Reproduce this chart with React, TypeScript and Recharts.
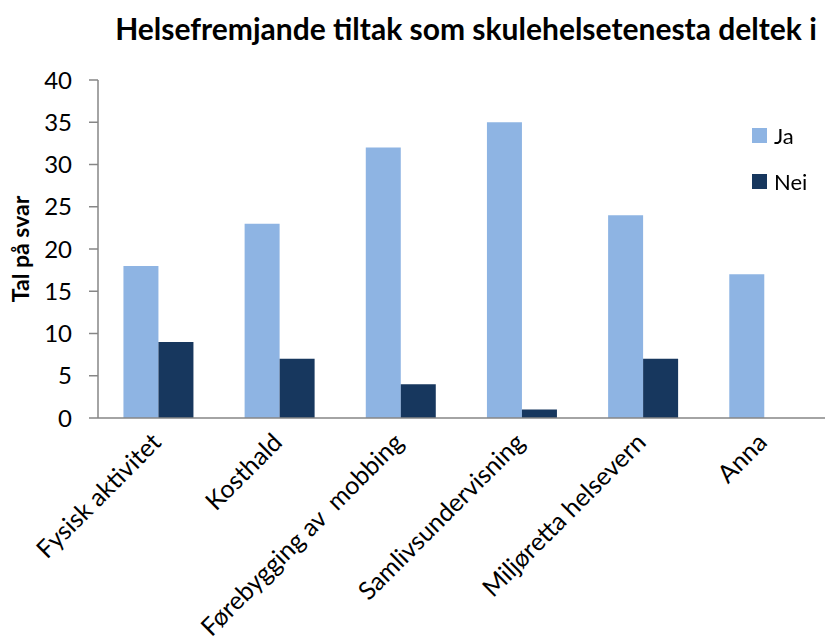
import { BarChart, Bar, XAxis, YAxis, Legend } from "recharts";

const categories = [
  "Fysisk aktivitet",
  "Kosthald",
  "Førebygging av  mobbing",
  "Samlivsundervisning",
  "Miljøretta helsevern",
  "Anna",
];
const jaValues = [18, 23, 32, 35, 24, 17];
const neiValues = [9, 7, 4, 1, 7, 0];
const majorTicks = [0, 5, 10, 15, 20, 25, 30, 35, 40];
const minorTicks = Array.from({ length: 41 }, (_, i) => i);

const FONT = "Lato, 'Open Sans', sans-serif";
const AXIS = "#868686";
const JA = "#8EB4E3";
const NEI = "#17375E";

const data = categories.map((name, i) => ({ name, ja: jaValues[i], nei: neiValues[i] }));

// skrå kategorietikettar, slutt ved midten av kategorien
const CategoryTick = ({ x, y, payload }: any) => (
  <g transform={`translate(${x},${y})`}>
    <text
      x={4}
      y={26}
      transform="rotate(-45 4 26)"
      textAnchor="end"
      fontSize={25}
      fontFamily={FONT}
      fill="#000"
      style={{ whiteSpace: "pre" }}
    >
      {payload.value}
    </text>
  </g>
);

const LegendBox = ({ payload }: any) => (
  <div style={{ fontFamily: FONT, fontSize: 22, color: "#000" }}>
    {(payload || []).map((p: any) => (
      <div key={p.value} style={{ display: "flex", alignItems: "center", height: 46 }}>
        <div style={{ width: 15, height: 15, background: p.color, marginRight: 7 }} />
        <span>{p.value}</span>
      </div>
    ))}
  </div>
);

export default function App() {
  return (
    <div style={{ position: "fixed", left: 0, top: 0, width: 825, height: 643, background: "#fff" }}>
      <div
        style={{
          position: "absolute",
          left: 107,
          width: 718,
          top: 10,
          textAlign: "center",
          fontFamily: FONT,
          fontWeight: 700,
          fontSize: 30,
          lineHeight: "36px",
          color: "#000",
          whiteSpace: "nowrap",
        }}
      >
        Helsefremjande tiltak som skulehelsetenesta deltek i
      </div>
      <BarChart
        width={825}
        height={643}
        data={data}
        margin={{ top: 80, right: 0, bottom: 25, left: 0 }}
        barCategoryGap="21%"
        barGap={0}
      >
        <XAxis
          dataKey="name"
          height={200}
          tickLine={false}
          tickSize={0}
          tickMargin={0}
          interval={0}
          axisLine={{ stroke: AXIS, strokeWidth: 1.5 }}
          tick={<CategoryTick />}
        />
        <YAxis
          width={98}
          domain={[0, 40]}
          ticks={majorTicks}
          interval={0}
          tickSize={9}
          tickMargin={17}
          axisLine={{ stroke: AXIS, strokeWidth: 1.5 }}
          tickLine={{ stroke: AXIS, strokeWidth: 1.5 }}
          tick={{ fill: "#000", fontSize: 24, fontFamily: FONT }}
          label={({ viewBox }: any) => (
            <text
              x={viewBox.x + 29}
              y={viewBox.y + viewBox.height / 2}
              transform={`rotate(-90 ${viewBox.x + 29} ${viewBox.y + viewBox.height / 2})`}
              textAnchor="middle"
              fontSize={23}
              fontWeight={700}
              fontFamily={FONT}
              fill="#000"
            >
              Tal på svar
            </text>
          )}
        />
        {/* småstrekar for kvar eining, inne i plottet */}
        <YAxis
          yAxisId="minor"
          mirror
          domain={[0, 40]}
          ticks={minorTicks}
          interval={0}
          tickSize={6}
          axisLine={false}
          tickLine={{ stroke: AXIS, strokeWidth: 1.5 }}
          tickFormatter={() => ""}
        />
        <Legend
          layout="vertical"
          align="center"
          verticalAlign="middle"
          wrapperStyle={{ top: 112, left: 752, width: 80 }}
          content={<LegendBox />}
        />
        <Bar dataKey="ja" name="Ja" fill={JA} isAnimationActive={false} />
        <Bar dataKey="nei" name="Nei" fill={NEI} isAnimationActive={false} />
      </BarChart>
    </div>
  );
}
